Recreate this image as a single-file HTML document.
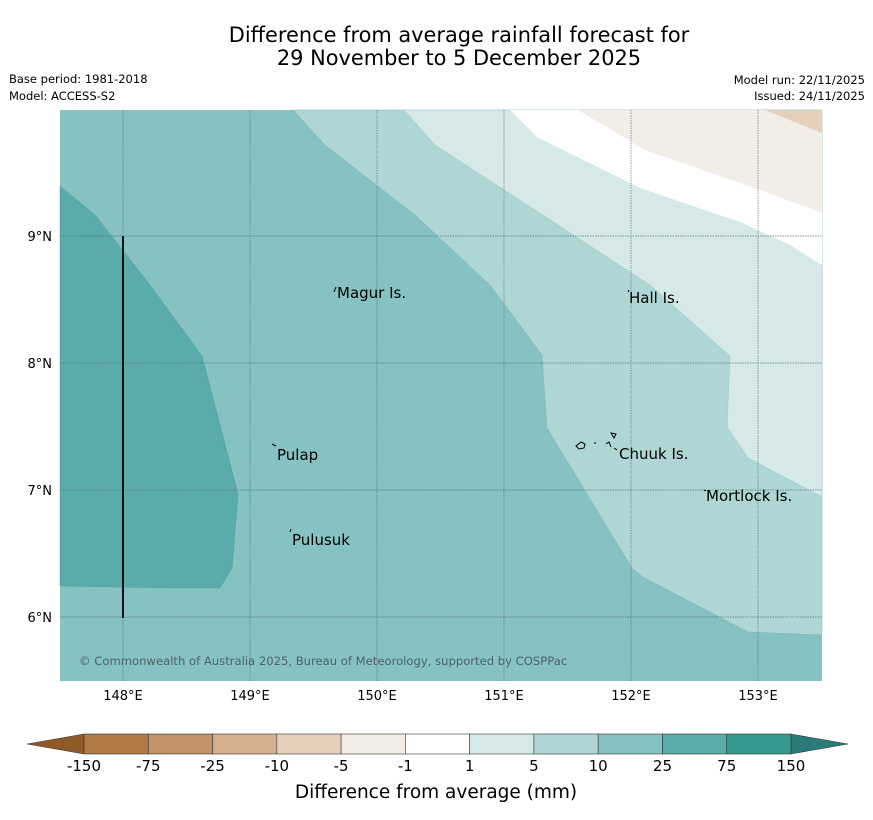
<!DOCTYPE html>
<html><head><meta charset="utf-8"><style>
body{margin:0;background:#fff;width:873px;height:816px;overflow:hidden;font-family:"DejaVu Sans","Liberation Sans",sans-serif}
</style></head><body>
<svg id="s" width="873" height="816" xmlns="http://www.w3.org/2000/svg" font-family="DejaVu Sans, Liberation Sans, sans-serif">
<text x="459" y="42" font-size="20.9" text-anchor="middle">Difference from average rainfall forecast for</text>
<text x="459" y="65" font-size="20.9" text-anchor="middle">29 November to 5 December 2025</text>
<text x="9" y="83" font-size="11.5">Base period: 1981-2018</text>
<text x="9" y="100" font-size="11.5">Model: ACCESS-S2</text>
<text x="865" y="84" font-size="11.5" text-anchor="end">Model run: 22/11/2025</text>
<text x="865" y="100" font-size="11.5" text-anchor="end">Issued: 24/11/2025</text>
<g id="map">
<rect x="60" y="110" width="762" height="571" fill="#86c2c1"/>
<polygon points="60,186 95,215 150,285 202,356 238,494 232,568 220,588 173,588 60,586" fill="#5aacab" stroke="#4f9d9c" stroke-width="0.5"/>
<polygon points="293,110 325,145 415,215 490,285 542,355 547,428 632,568 643,577 748,632 822,635 822,110" fill="#aed6d5" stroke="#7fb5b4" stroke-width="0.5"/>
<polygon points="404,110 435,145 535,210 650,285 730,356 727,427 748,458 822,497 822,110" fill="#d6e9e8" stroke="#9cc5c4" stroke-width="0.5"/>
<polygon points="510,110 537,137 640,188 740,222 790,245 822,265 822,110" fill="#ffffff"/>
<polygon points="578,110 645,150 760,190 822,213 822,110" fill="#f2ede6"/>
<polygon points="765,110 822,133 822,110" fill="#e5d0bc"/>
</g>
<g id="grid"></g>
<line x1="123" y1="236" x2="123" y2="618" stroke="#111" stroke-width="2"/>
<g font-size="15" fill="#000">
<text x="337" y="298">Magur Is.</text>
<text x="629" y="303">Hall Is.</text>
<text x="277" y="460">Pulap</text>
<text x="619" y="459">Chuuk Is.</text>
<text x="706" y="501">Mortlock Is.</text>
<text x="292" y="545">Pulusuk</text>
</g>
<g stroke="#000" fill="none" stroke-width="1">
<path d="M334,292 l2,-5"/><path d="M628,292 l1,-2"/><path d="M272,444 l4,2"/><path d="M290,532 l1,-3"/><path d="M704,490 l2,1"/>
<path d="M576,446 l5,-4 4,2 -1,4 -5,1z"/><path d="M611,433 l5,1 -2,4z"/><path d="M606,444 l3,-2 2,5"/><path d="M594,443 l2,0"/><path d="M614,448 l3,2"/>
</g>
<text x="79" y="665" font-size="11.6" fill="#4d6463">© Commonwealth of Australia 2025, Bureau of Meteorology, supported by COSPPac</text>
<g id="cbar"></g>
<text x="436" y="798" font-size="18.5" text-anchor="middle">Difference from average (mm)</text>
</svg>
<script>
const lonTicks=[148,149,150,151,152,153];
const latTicks=[9,8,7,6];
const binLabels=["-150","-75","-25","-10","-5","-1","1","5","10","25","75","150"];
const binColors=["#b07a45","#c29369","#d4b08f","#e5d0bc","#f2ede6","#ffffff","#d6e9e8","#aed6d5","#86c2c1","#5aacab","#35998f"];
const extColors=["#8f5a28","#2a7a78"];
const NS="http://www.w3.org/2000/svg";
function el(t,a,p){const e=document.createElementNS(NS,t);for(const k in a)e.setAttribute(k,a[k]);p.appendChild(e);return e;}
const xLon=l=>123+(l-148)*127, yLat=l=>236+(9-l)*127;
const g=document.getElementById('grid');
lonTicks.forEach(l=>{const x=xLon(l);
 const ln=el('line',{x1:x,y1:110,x2:x,y2:681,stroke:'#5a7a79','stroke-width':0.7,'stroke-dasharray':'1.5,1'},g);
 
 
 const t=el('text',{x:x,y:700,'font-size':13,'text-anchor':'middle'},g);t.textContent=l+'°E';
 
 });
latTicks.forEach(l=>{const y=yLat(l);
 const ln=el('line',{x1:60,y1:y,x2:822,y2:y,stroke:'#5a7a79','stroke-width':0.7,'stroke-dasharray':'1.5,1'},g);
 
 
 const t=el('text',{x:52,y:y+5,'font-size':13,'text-anchor':'end'},g);t.textContent=l+'°N';
 
 });
const c=document.getElementById('cbar');
const x0=84,x1=791,y0=734,h=20,w=(x1-x0)/binColors.length;
let p=el('polygon',{points:`27,${y0+h/2} ${x0},${y0} ${x0},${y0+h}`,fill:extColors[0],stroke:'#333','stroke-width':0.5},c);


p=el('polygon',{points:`848,${y0+h/2} ${x1},${y0} ${x1},${y0+h}`,fill:extColors[1],stroke:'#333','stroke-width':0.5},c);


binColors.forEach((col,i)=>{const r=el('rect',{x:x0+i*w,y:y0,width:w,height:h,fill:col,stroke:'#333','stroke-width':0.6},c);
 
 });
binLabels.forEach((s,i)=>{const t=el('text',{x:x0+i*w,y:771,'font-size':15,'text-anchor':'middle'},c);t.textContent=s;
 
 });
</script>
</body></html>
